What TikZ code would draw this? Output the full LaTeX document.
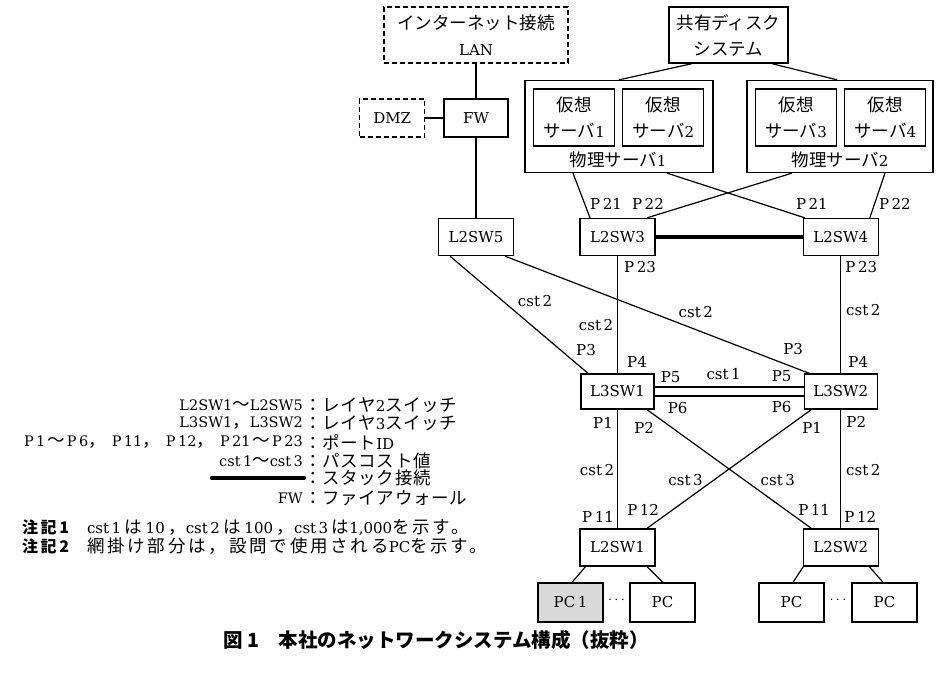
\documentclass[tikz,border=0pt]{standalone}
\usepackage{fontspec}
\setmainfont{DejaVu Serif}
\newfontfamily\jp{Noto Sans CJK JP}
\newcommand\latn[1]{{\rmfamily\fontsize{15}{26}\selectfont #1}}
\newcommand\jpw[1]{{\jp\fontsize{17.5}{20}\selectfont #1}}
\usetikzlibrary{positioning}

\begin{document}
\begin{tikzpicture}[
    x=1pt, y=-1pt,
    font=\fontsize{15}{24}\selectfont,
    box/.style={rectangle, draw, line width=1.3pt, inner sep=0pt, align=center},
    jptext/.style={font=\fontsize{17.5}{26}\selectfont\jp},
    swbox/.style={box, minimum width=75pt, minimum height=37pt},
    dashbox/.style={box, dash pattern=on 5pt off 3pt},
    vsbox/.style={box, jptext, minimum width=81pt, minimum height=57pt},
    pcbox/.style={box, minimum width=65pt, minimum height=39pt},
    link/.style={line width=1.2pt},
    stack/.style={line width=4.5pt},
    lbl/.style={inner sep=0pt, font=\fontsize{15}{20}\selectfont},
    key/.style={anchor=east, inner sep=0pt, font=\fontsize{14.5}{20}\selectfont},
    val/.style={anchor=west, inner sep=0pt, font=\fontsize{17.5}{20}\selectfont\jp\addfontfeatures{LetterSpace=4}},
    note/.style={anchor=west, inner sep=0pt, font=\fontsize{17.5}{20}\selectfont\jp\addfontfeatures{LetterSpace=16}}
]
\useasboundingbox (0,0) rectangle (945,684);

% Outside and firewall
\node[dashbox, jptext, minimum width=184pt, minimum height=56pt] (lan) at (476,35) {インターネット接続\\\latn{LAN}};
\node[box, minimum width=64pt, minimum height=38pt] (fw) at (476,118) {FW};
\node[dashbox, minimum width=65pt, minimum height=38pt, left=18pt of fw] (dmz) {DMZ};

% Servers
\node[box, jptext, minimum width=119pt, minimum height=56pt] (disk) at (728.5,35) {共有ディスク\\システム};
\node[box, minimum width=188pt, minimum height=92pt] (ps1) at (619,126.5) {};
\node[box, minimum width=186pt, minimum height=92pt] (ps2) at (840,126.5) {};
\node[vsbox] (vs1) at (574,117.5) {仮想\\サーバ\latn{1}};
\node[vsbox, right=7pt of vs1] (vs2) {仮想\\サーバ\latn{2}};
\node[vsbox] (vs3) at (796,117.5) {仮想\\サーバ\latn{3}};
\node[vsbox, right=7pt of vs3] (vs4) {仮想\\サーバ\latn{4}};
\node[jptext, inner sep=0pt] (ps1name) at (618,160) {物理サーバ\latn{1}};
\node[jptext, inner sep=0pt] (ps2name) at (840,160) {物理サーバ\latn{2}};

% Switches
\node[swbox] (l2sw5) at (476,237) {L2SW5};
\node[swbox] (l2sw3) at (617.5,237) {L2SW3};
\node[swbox, right=147pt of l2sw3] (l2sw4) {L2SW4};
\node[swbox, minimum width=73pt, minimum height=35pt] (l3sw1) at (617.5,391.5) {L3SW1};
\node[swbox, minimum width=73pt, minimum height=35pt, right=149pt of l3sw1] (l3sw2) {L3SW2};
\node[swbox] (l2sw1) at (617.5,547.5) {L2SW1};
\node[swbox, right=147pt of l2sw1] (l2sw2) {L2SW2};

% PCs
\node[pcbox, fill=gray!30] (pc1) at (570.5,602.5) {PC\,1};
\node[pcbox] (pca) at (662.5,602.5) {PC};
\node[pcbox] (pcb) at (791.5,602.5) {PC};
\node[pcbox] (pcc) at (884.5,602.5) {PC};
\node (dotsa) at (616.5,600) {$\cdots$};
\node (dotsb) at (838,600) {$\cdots$};

% Upper links
\draw[link] (lan) -- (fw);
\draw[link] (dmz) -- (fw);
\draw[link] (fw) -- (l2sw5);
\draw[link] ([xshift=-36.5pt]disk.south) -- (ps1.north);
\draw[link] ([xshift=43.5pt]disk.south) -- ([xshift=-3pt]ps2.north);
\draw[link] ([xshift=-46pt]ps1.south) -- node[lbl, pos=0.685, xshift=21.4pt] {P\,21} ([xshift=-27.5pt]l2sw3.north);
\draw[link] ([xshift=-48pt]ps2.south) -- node[lbl, pos=0.685, xshift=-44.7pt] {P\,22} ([xshift=29.5pt]l2sw3.north);
\draw[link] ([xshift=48pt]ps1.south) -- node[lbl, pos=0.685, xshift=50.5pt] {P\,21} ([xshift=-36pt]l2sw4.north);
\draw[link] ([xshift=45pt]ps2.south) -- node[lbl, pos=0.685, xshift=20.3pt] {P\,22} ([xshift=29pt]l2sw4.north);
\draw[stack] (l2sw3) -- (l2sw4);

% Core links
\draw[link] (l2sw3) -- node[lbl, pos=0.097, xshift=22.5pt] {P\,23}
    node[lbl, pos=0.586, xshift=-21.5pt] {cst\,2}
    node[lbl, pos=0.899, xshift=19.5pt] {P4} (l3sw1);
\draw[link] (l2sw4) -- node[lbl, pos=0.097, xshift=20.5pt] {P\,23}
    node[lbl, pos=0.46, xshift=22.5pt] {cst\,2}
    node[lbl, pos=0.899, xshift=17.5pt] {P4} (l3sw2);
\draw[link] ([xshift=-26pt]l2sw5.south) -- node[lbl, pos=0.384, xshift=32pt] {cst\,2}
    node[lbl, pos=0.797, xshift=26pt] {P3} ([xshift=-29.5pt]l3sw1.north);
\draw[link] ([xshift=29pt]l2sw5.south) -- node[lbl, pos=0.627, yshift=17.8pt] {cst\,2}
    node[lbl, pos=0.947, yshift=17.7pt] {P3} ([xshift=-31.5pt]l3sw2.north);
\draw[link] ([yshift=4.5pt]l3sw1.east) -- node[lbl, pos=0.107, yshift=10pt] {P5}
    node[lbl, pos=0.463, yshift=13pt] {cst\,1}
    node[lbl, pos=0.852, yshift=11pt] {P5} ([yshift=4.5pt]l3sw2.west);
\draw[link] ([yshift=-4.5pt]l3sw1.east) -- node[lbl, pos=0.154, yshift=-12pt] {P6}
    node[lbl, pos=0.852, yshift=-11pt] {P6} ([yshift=-4.5pt]l3sw2.west);

% Access links
\draw[link] (l3sw1) -- node[lbl, pos=0.108, xshift=-14.5pt] {P1}
    node[lbl, pos=0.508, xshift=-20.5pt] {cst\,2}
    node[lbl, pos=0.908, xshift=-19.5pt] {P\,11} (l2sw1);
\draw[link] (l3sw2) -- node[lbl, pos=0.1, xshift=15.5pt] {P2}
    node[lbl, pos=0.508, xshift=22.5pt] {cst\,2}
    node[lbl, pos=0.908, xshift=19.5pt] {P\,12} (l2sw2);
\draw[link] ([xshift=29.5pt]l3sw1.south) -- node[lbl, pos=0.158, xshift=-28.8pt] {P2}
    node[lbl, pos=0.592, xshift=33.5pt] {cst\,3}
    node[lbl, pos=0.842, xshift=28.8pt] {P\,11} ([xshift=-29.5pt]l2sw2.north);
\draw[link] ([xshift=-29.5pt]l3sw2.south) -- node[lbl, pos=0.158, xshift=26.8pt] {P1}
    node[lbl, pos=0.592, xshift=-28.5pt] {cst\,3}
    node[lbl, pos=0.842, xshift=-29.8pt] {P\,12} ([xshift=29.5pt]l2sw1.north);
\draw[link] ([xshift=-32pt]l2sw1.south) -- ([xshift=1.5pt]pc1.north);
\draw[link] ([xshift=29.5pt]l2sw1.south) -- ([xshift=0.5pt]pca.north);
\draw[link] ([xshift=-37.5pt]l2sw2.south) -- ([xshift=1.5pt]pcb.north);
\draw[link] ([xshift=28.5pt]l2sw2.south) -- ([xshift=-1.5pt]pcc.north);

% Legend
\node[key] (k1) at (303,405) {L2SW1\jpw{～}L2SW5};
\node[val] (v1) at (304,405) {：レイヤ\latn{2}スイッチ};
\node[key] (k2) at (303,423) {L3SW1\jpw{，}L3SW2};
\node[val] (v2) at (304,423) {：レイヤ\latn{3}スイッチ};
\node[key] (k3) at (303,442) {P\,1\hspace{2pt}\jpw{～}\hspace{2pt}P\,6\jpw{，}\hspace{6pt}P\,11\jpw{，}\hspace{6pt}P\,12\jpw{，}\hspace{6pt}P\,21\hspace{2pt}\jpw{～}\hspace{2pt}P\,23};
\node[val] (v3) at (304,442) {：ポート\latn{ID}};
\node[key] (k4) at (303,461) {cst\,1\jpw{～}cst\,3};
\node[val] (v4) at (304,461) {：パスコスト値};
\coordinate (k5) at (212,478);
\node[val] (v5) at (304,478) {：スタック接続};
\draw[stack, line cap=round] (k5) -- (v5.west);
\node[key] (k6) at (303,498) {FW};
\node[val] (v6) at (304,498) {：ファイアウォール};

% Notes and caption
\node[note] (note1) at (22,528) {{\bfseries\fontsize{16}{20}\selectfont 注記1}\hspace{18pt}\latn{cst\,1}\hspace{3.5pt}は\hspace{3.5pt}\latn{10}\hspace{3.5pt}，\latn{cst\,2}\hspace{3.5pt}は\hspace{3.5pt}\latn{100}\hspace{3.5pt}，\latn{cst\,3}\hspace{3.5pt}は\latn{1,000}を示す。};
\node[note] (note2) at (22,546) {{\bfseries\fontsize{16}{20}\selectfont 注記2}\hspace{18pt}網掛け部分は，設問で使用される\latn{PC}を示す。};
\node[inner sep=0pt, font=\fontsize{19.5}{22}\selectfont\jp\bfseries] (caption) at (436,640) {図 1　本社のネットワークシステム構成（抜粋）};
\end{tikzpicture}
\end{document}
